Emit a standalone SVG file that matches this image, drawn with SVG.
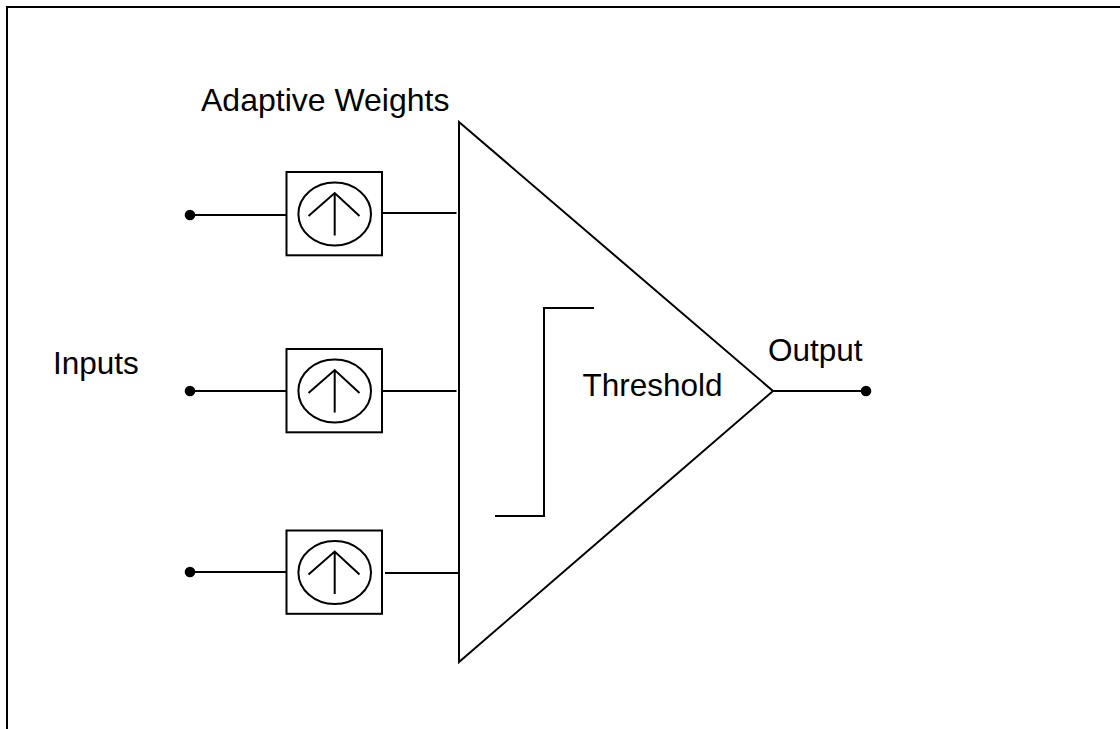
<svg xmlns="http://www.w3.org/2000/svg" width="1120" height="729" viewBox="0 0 1120 729">
<style>
.l{fill:none;stroke:#000;stroke-width:2}
.d{fill:#000}
text{font-family:"Liberation Sans",Arial,sans-serif;font-size:31.5px;fill:#000}
</style>
<defs>
<g id="weight">
<rect class="l" x="286.5" y="-42" width="95.5" height="83.3"/>
<ellipse class="l" cx="334.7" cy="0" rx="36.3" ry="31.5"/>
<path class="l" d="M308.5 2L334.7 -21L359.5 2M334.7 -21V21.5"/>
</g>
</defs>
<rect width="1120" height="729" fill="#fff"/>
<path id="frame" fill="none" stroke="#000" stroke-width="2" d="M7 729V7H1120"/>
<g id="connectors">
<path class="l" d="M190 215H286.5M382.5 213H456.5"/>
<path class="l" d="M190 391H286.5M382.5 391H456.5"/>
<path class="l" d="M190 572H286.5M385 573H459"/>
<path class="l" d="M773 391H866"/>
<circle class="d" cx="190" cy="215" r="5.3"/>
<circle class="d" cx="190" cy="391" r="5.3"/>
<circle class="d" cx="190" cy="572" r="5.3"/>
<circle class="d" cx="866" cy="391" r="5.3"/>
</g>
<g id="weight-1"><use href="#weight" y="214"/></g>
<g id="weight-2"><use href="#weight" y="391"/></g>
<g id="weight-3"><use href="#weight" y="572.5"/></g>
<g id="threshold">
<path class="l" d="M459 122L773 391L459 662Z"/>
<path class="l" d="M495 516H544V308H594"/>
<text x="582.5" y="396">Threshold</text>
</g>
<text id="label-weights" x="201" y="111" style="font-size:32px">Adaptive Weights</text>
<text id="label-inputs" x="53" y="374">Inputs</text>
<text id="label-output" x="768" y="361">Output</text>
</svg>
